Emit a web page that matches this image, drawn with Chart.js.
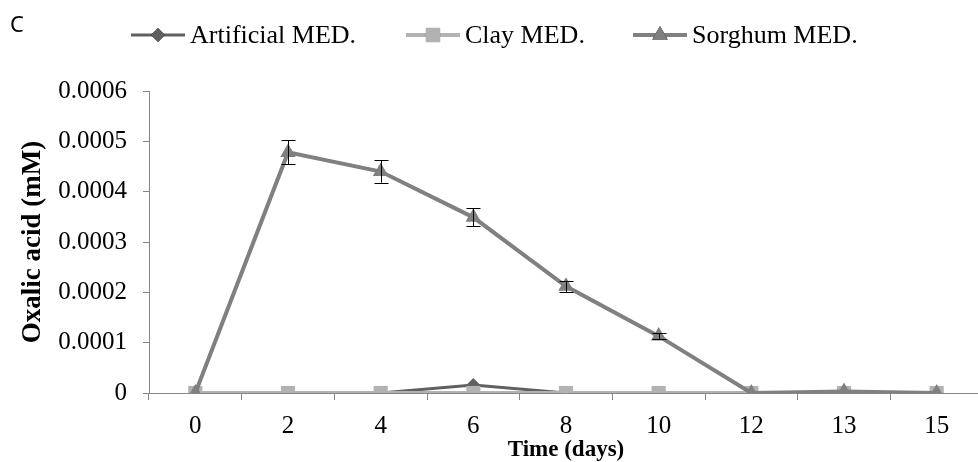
<!DOCTYPE html>
<html>
<head>
<meta charset="utf-8">
<script src="https://cdn.jsdelivr.net/npm/chart.js@4.4.0/dist/chart.umd.min.js"></script>
<style>
  html, body { margin: 0; padding: 0; background: #fff; overflow: hidden; }
  canvas { display: block; }
</style>
</head>
<body>
<canvas id="chart" width="993" height="462"></canvas>
<script>
// chart data
const days = ['0', '2', '4', '6', '8', '10', '12', '13', '15'];
const artificial = [0, 0, 0, 0.000016, 0, 0, 0, 0, 0];
const clay = [0, 0, 0, 0, 0, 0, 0, 0, 0];
const sorghum = [0, 0.000478, 0.00044, 0.000349, 0.000212, 0.000113, 0, 0.000003, 0];
const sorghumErr = [0, 0.000024, 0.000022, 0.000018, 0.000011, 0.000006, 0, 0, 0];
const yTickLabels = ['0', '0.0001', '0.0002', '0.0003', '0.0004', '0.0005', '0.0006'];

const serif = "'Liberation Serif', 'Times New Roman', serif";
const axisGray = '#868686';

// error bars on the sorghum series
const errorBars = {
    id: 'errorBars',
    afterDatasetsDraw(chart) {
        const meta = chart.getDatasetMeta(2);
        const y = chart.scales.y;
        const ctx = chart.ctx;
        ctx.save();
        ctx.strokeStyle = '#000';
        ctx.lineWidth = 1;
        meta.data.forEach((pt, i) => {
            const e = sorghumErr[i];
            if (!e) return;
            const top = y.getPixelForValue(sorghum[i] + e);
            const bot = y.getPixelForValue(sorghum[i] - e);
            const x = Math.round(pt.x) + 0.5;
            ctx.beginPath();
            ctx.moveTo(x, top); ctx.lineTo(x, bot);
            ctx.moveTo(x - 7, Math.round(top) + 0.5); ctx.lineTo(x + 7, Math.round(top) + 0.5);
            ctx.moveTo(x - 7, Math.round(bot) + 0.5); ctx.lineTo(x + 7, Math.round(bot) + 0.5);
            ctx.stroke();
        });
        ctx.restore();
    }
};

// legend row and panel letter, drawn like the original
const topLegend = {
    id: 'topLegend',
    afterDraw(chart) {
        const ctx = chart.ctx;
        const items = [
            { ds: 0, x0: 131, x1: 185, tx: 190 },
            { ds: 1, x0: 406, x1: 460, tx: 465 },
            { ds: 2, x0: 633, x1: 687, tx: 692 }
        ];
        ctx.save();
        ctx.font = "22px 'Noto Sans', sans-serif";
        ctx.fillStyle = '#000';
        ctx.textBaseline = 'middle';
        ctx.fillText('C', 10, 26);

        items.forEach(it => {
            const ds = chart.data.datasets[it.ds];
            const ly = 35;
            ctx.strokeStyle = ds.borderColor;
            ctx.lineWidth = ds.borderWidth;
            ctx.beginPath();
            ctx.moveTo(it.x0, ly); ctx.lineTo(it.x1, ly);
            ctx.stroke();
            Chart.helpers.drawPoint(ctx, {
                pointStyle: ds.pointStyle,
                radius: ds.pointRadius,
                borderWidth: 0,
                rotation: 0
            }, (it.x0 + it.x1) / 2, ly);
            ctx.fillStyle = ds.backgroundColor;
            ctx.fill();
            ctx.fillStyle = '#000';
            ctx.font = '26px ' + serif;
            ctx.textBaseline = 'alphabetic';
            ctx.fillText(ds.label, it.tx, 43);
        });
        ctx.restore();
    }
};

new Chart(document.getElementById('chart'), {
    type: 'line',
    data: {
        labels: days,
        datasets: [
            {
                label: 'Artificial MED.',
                data: artificial,
                borderColor: '#606060',
                backgroundColor: '#606060',
                borderWidth: 3,
                pointStyle: 'rectRot',
                pointRadius: 7,
                pointBorderWidth: 0,
                order: 2
            },
            {
                label: 'Clay MED.',
                data: clay,
                borderColor: '#b2b2b2',
                backgroundColor: '#b2b2b2',
                borderWidth: 4,
                pointStyle: 'rect',
                pointRadius: 10,
                pointBorderWidth: 0,
                order: 1
            },
            {
                label: 'Sorghum MED.',
                data: sorghum,
                borderColor: '#808080',
                backgroundColor: '#808080',
                borderWidth: 4,
                pointStyle: 'triangle',
                pointRadius: 9,
                pointBorderWidth: 0,
                order: 0
            }
        ]
    },
    options: {
        responsive: false,
        animation: false,
        layout: { padding: { top: 91, left: 0, right: 0, bottom: 0 } },
        plugins: {
            legend: { display: false },
            tooltip: { enabled: false }
        },
        scales: {
            x: {
                offset: true,
                afterFit(scale) { scale.height = 69; },
                grid: {
                    offset: true,
                    drawOnChartArea: false,
                    drawTicks: true,
                    tickLength: 7,
                    color: axisGray
                },
                border: { color: axisGray, width: 1 },
                ticks: {
                    color: '#000',
                    padding: 11,
                    maxRotation: 0,
                    font: { family: serif, size: 25 }
                },
                title: {
                    display: true,
                    text: 'Time (days)',
                    color: '#000',
                    padding: { top: 0, bottom: -2 },
                    font: { family: serif, size: 23, weight: 'bold' }
                }
            },
            y: {
                min: 0,
                max: 0.0006,
                afterFit(scale) { scale.width = 149; },
                grid: {
                    drawOnChartArea: false,
                    drawTicks: true,
                    tickLength: 6,
                    color: axisGray
                },
                border: { color: axisGray, width: 1 },
                ticks: {
                    stepSize: 0.0001,
                    color: '#000',
                    padding: 16,
                    font: { family: serif, size: 25 },
                    callback: (v, i) => yTickLabels[i]
                },
                title: {
                    display: true,
                    text: 'Oxalic acid (mM)',
                    color: '#000',
                    padding: { top: 17, bottom: 0 },
                    font: { family: serif, size: 27, weight: 'bold' }
                }
            }
        }
    },
    plugins: [errorBars, topLegend]
});
</script>
</body>
</html>
